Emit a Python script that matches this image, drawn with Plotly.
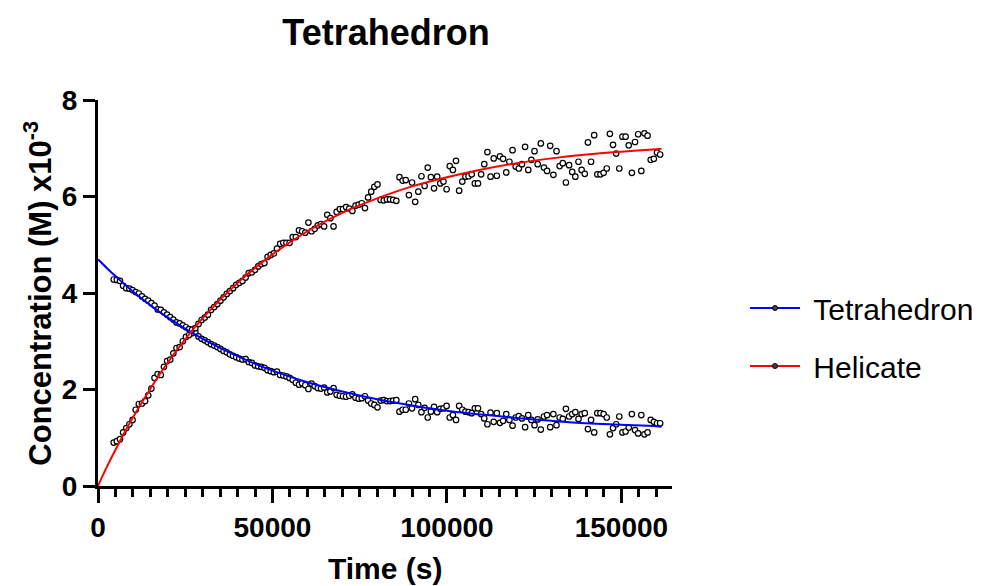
import plotly.graph_objects as go

# Sampling times of the kinetic run (s)
time_s = [
    4500, 5400, 6300, 7200, 8100, 9000, 9900, 10800, 11700, 12600,
    13500, 14400, 15300, 16200, 17100, 18000, 18900, 19800, 20700, 21600,
    22500, 23400, 24300, 25200, 26100, 27000, 27900, 28800, 29700, 30600,
    31500, 32400, 33300, 34200, 35100, 36000, 36900, 37800, 38700, 39600,
    40500, 41400, 42300, 43200, 44100, 45000, 45900, 46800, 47700, 48600,
    49500, 50400, 51300, 52200, 53100, 54000, 54900, 55800, 56700, 57600,
    58500, 59400, 60300, 61200, 62100, 63000, 63900, 64800, 65700, 66600,
    67500, 68400, 69300, 70200, 71100, 72000, 72900, 73800, 74700, 75600,
    76500, 77400, 78300, 79200, 80100, 81000, 81900, 82800, 83700, 84600,
    85500, 86400, 87300, 88200, 89100, 90000, 90900, 91800, 92700, 93600,
    94500, 95400, 96300, 97200, 98100, 99000, 99900, 100800, 101700, 102600,
    103500, 104400, 105300, 106200, 107100, 108000, 108900, 109800, 110700, 111600,
    112500, 113400, 114300, 115200, 116100, 117000, 117900, 118800, 119700, 120600,
    121500, 122400, 123300, 124200, 125100, 126000, 126900, 127800, 128700, 129600,
    130500, 131400, 132300, 133200, 134100, 135000, 135900, 136800, 137700, 138600,
    139500, 140400, 141300, 142200, 143100, 144000, 144900, 145800, 146700, 147600,
    148500, 149400, 150300, 151200, 152100, 153000, 153900, 154800, 155700, 156600,
    157500, 158400, 159300, 160200, 161100,
]

# Measured concentrations (M x10^-3)
tetrahedron = [
    4.28, 4.27, 4.25, 4.15, 4.10, 4.09, 4.06, 4.02, 3.99, 3.93,
    3.88, 3.84, 3.79, 3.74, 3.66, 3.65, 3.60, 3.55, 3.50, 3.45,
    3.39, 3.37, 3.33, 3.29, 3.25, 3.17, 3.19, 3.10, 3.05, 3.02,
    2.98, 2.94, 2.91, 2.88, 2.84, 2.80, 2.77, 2.73, 2.70, 2.67,
    2.64, 2.62, 2.63, 2.57, 2.55, 2.50, 2.48, 2.47, 2.45, 2.40,
    2.38, 2.36, 2.37, 2.30, 2.29, 2.27, 2.24, 2.20, 2.14, 2.10,
    2.13, 2.09, 2.01, 2.12, 2.07, 2.03, 2.02, 2.04, 1.94, 1.96,
    2.03, 1.89, 1.87, 1.86, 1.85, 1.87, 1.90, 1.83, 1.81, 1.82,
    1.86, 1.77, 1.71, 1.68, 1.63, 1.77, 1.78, 1.76, 1.76, 1.77,
    1.78, 1.54, 1.58, 1.58, 1.71, 1.61, 1.80, 1.68, 1.53, 1.62,
    1.42, 1.54, 1.64, 1.53, 1.60, 1.61, 1.66, 1.42, 1.47, 1.37,
    1.66, 1.58, 1.54, 1.53, 1.51, 1.61, 1.61, 1.49, 1.40, 1.28,
    1.52, 1.33, 1.51, 1.31, 1.35, 1.49, 1.37, 1.25, 1.42, 1.45,
    1.40, 1.22, 1.47, 1.37, 1.26, 1.38, 1.17, 1.44, 1.47, 1.22,
    1.49, 1.26, 1.42, 1.39, 1.60, 1.44, 1.49, 1.53, 1.39, 1.49,
    1.51, 1.18, 1.37, 1.11, 1.51, 1.51, 1.49, 1.42, 1.07, 1.20,
    1.28, 1.44, 1.11, 1.13, 1.21, 1.49, 1.16, 1.09, 1.47, 1.07,
    1.11, 1.37, 1.33, 1.30, 1.30,
]

helicate = [
    0.90, 0.93, 0.97, 1.11, 1.20, 1.28, 1.37, 1.58, 1.70, 1.71,
    1.76, 1.88, 2.02, 2.24, 2.32, 2.30, 2.47, 2.59, 2.62, 2.75,
    2.86, 2.88, 3.00, 3.09, 3.13, 3.24, 3.27, 3.36, 3.44, 3.49,
    3.55, 3.65, 3.71, 3.77, 3.84, 3.91, 3.98, 4.04, 4.10, 4.17,
    4.21, 4.25, 4.32, 4.41, 4.43, 4.48, 4.55, 4.60, 4.62, 4.75,
    4.79, 4.82, 4.92, 5.02, 5.04, 5.04, 5.04, 5.16, 5.16, 5.30,
    5.28, 5.25, 5.46, 5.28, 5.33, 5.40, 5.43, 5.38, 5.62, 5.55,
    5.38, 5.68, 5.74, 5.74, 5.78, 5.75, 5.70, 5.81, 5.83, 5.86,
    5.76, 5.98, 6.10, 6.20, 6.25, 5.93, 5.92, 5.94, 5.94, 5.93,
    5.91, 6.40, 6.33, 6.34, 6.03, 6.29, 5.89, 6.10, 6.42, 6.22,
    6.60, 6.40, 6.17, 6.41, 6.27, 6.31, 6.15, 6.63, 6.55, 6.74,
    6.12, 6.31, 6.41, 6.42, 6.46, 6.27, 6.27, 6.46, 6.67, 6.92,
    6.41, 6.79, 6.43, 6.83, 6.78, 6.50, 6.72, 6.96, 6.62, 6.58,
    6.67, 7.03, 6.55, 6.76, 6.94, 6.67, 7.10, 6.60, 6.53, 7.05,
    6.45, 6.94, 6.63, 6.69, 6.29, 6.65, 6.51, 6.41, 6.72, 6.55,
    6.47, 7.12, 6.72, 7.27, 6.46, 6.46, 6.49, 6.58, 7.30, 7.07,
    6.89, 6.58, 7.24, 7.24, 7.06, 6.49, 7.13, 7.29, 6.53, 7.31,
    7.26, 6.76, 6.78, 6.91, 6.87,
]

# Fitted kinetic curves
fit_time = [0, 2500, 5000, 10000, 20000, 30000, 40000, 50000, 60000, 70000,
            80000, 90000, 100000, 110000, 120000, 130000, 140000, 150000,
            160000, 161500]
tetrahedron_fit = [4.70, 4.52, 4.35, 4.03, 3.49, 3.05, 2.69, 2.39, 2.15, 1.96,
                   1.80, 1.67, 1.56, 1.48, 1.41, 1.35, 1.30, 1.27, 1.24, 1.23]
helicate_fit = [0.00, 0.39, 0.75, 1.42, 2.56, 3.48, 4.21, 4.80, 5.28, 5.66,
                5.96, 6.21, 6.40, 6.56, 6.69, 6.79, 6.87, 6.93, 6.98, 6.99]

x_ticks = [0, 50000, 100000, 150000]
x_tick_labels = ["0", "50000", "100000", "150000"]
y_ticks = [0, 2, 4, 6, 8]
y_tick_labels = ["0", "2", "4", "6", "8"]

series_names = ["Tetrahedron", "Helicate"]
BLUE = "#0000FF"
RED = "#FF0000"
FONT = "Arial, Liberation Sans, Helvetica, sans-serif"

fig = go.Figure()

point_marker = dict(symbol="circle", size=5.5, color="white",
                    line=dict(color="black", width=1.2))

for values in (tetrahedron, helicate):
    fig.add_trace(go.Scatter(x=time_s, y=values, mode="markers",
                             marker=point_marker, showlegend=False,
                             hoverinfo="x+y"))

for fit_values, color in ((tetrahedron_fit, BLUE), (helicate_fit, RED)):
    fig.add_trace(go.Scatter(x=fit_time, y=fit_values, mode="lines",
                             line=dict(color=color, width=2, shape="spline"),
                             showlegend=False, hoverinfo="skip"))

# Legend entries: fitted line with a data symbol
for name, color in zip(series_names, (BLUE, RED)):
    fig.add_trace(go.Scatter(x=[None], y=[None], mode="lines+markers",
                             name="\u00a0" + name, legendgroup=name,
                             line=dict(color=color, width=2),
                             marker=dict(symbol="circle", size=5, color="#444",
                                         line=dict(color="black", width=1))))

axis_common = dict(showline=True, linewidth=3, linecolor="black",
                   showgrid=False, zeroline=False, ticks="outside",
                   tickwidth=3, tickcolor="black",
                   tickfont=dict(family=FONT, size=28, color="black", weight="bold"))

fig.update_xaxes(range=[0, 164500], tickmode="array", tickvals=x_ticks,
                 ticktext=x_tick_labels, ticklen=14,
                 minor=dict(tickmode="linear", tick0=0, dtick=5000, ticks="outside",
                            ticklen=8, tickwidth=3, tickcolor="black", showgrid=False),
                 **axis_common)
fig.update_yaxes(range=[0, 8], tickmode="array", tickvals=y_ticks,
                 ticktext=y_tick_labels, ticklen=12, **axis_common)

fig.update_layout(
    width=982, height=586,
    margin=dict(l=98, r=310, t=100, b=100, autoexpand=False),
    plot_bgcolor="white", paper_bgcolor="white",
    title=dict(text="<b>Tetrahedron</b>", x=386 / 982, y=1 - 32 / 586,
               xanchor="center", yanchor="middle",
               font=dict(family=FONT, size=36, color="black")),
    legend=dict(xref="container", yref="container",
                x=745 / 982, y=1 - 282 / 586, xanchor="left", yanchor="top",
                font=dict(family=FONT, size=30, color="black"),
                itemwidth=50, tracegroupgap=16, bgcolor="rgba(0,0,0,0)"),
    annotations=[
        dict(text="<b>Time (s)</b>", xref="paper", yref="paper",
             x=0.5, y=-0.215, xanchor="center", yanchor="middle",
             showarrow=False, font=dict(family=FONT, size=30, color="black")),
        dict(text="<b>Concentration (M) x10<sup>-3</sup></b>", xref="paper",
             yref="paper", x=-0.105, y=0.5, xanchor="center", yanchor="middle",
             textangle=-90, showarrow=False,
             font=dict(family=FONT, size=31, color="black")),
    ],
)

fig.write_html("out.html")
